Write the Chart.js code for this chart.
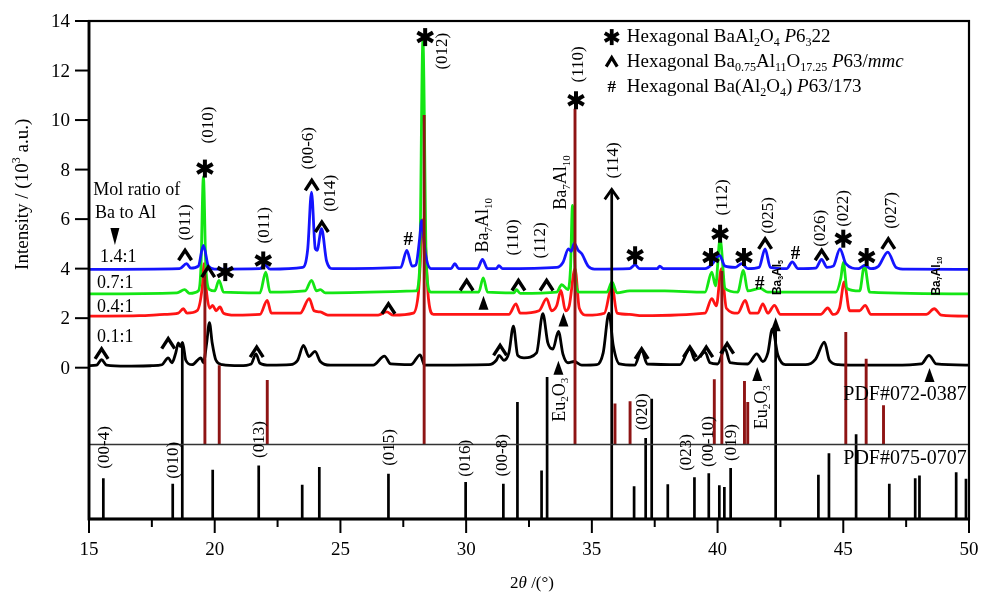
<!DOCTYPE html>
<html>
<head>
<meta charset="utf-8">
<script src="https://cdn.jsdelivr.net/npm/chart.js@4.4.1/dist/chart.umd.min.js"></script>
<style>
  body { margin: 0; background: #fff; }
  canvas { display: block; }
</style>
</head>
<body>
<canvas id="xrdChart" width="981" height="592"></canvas>
<script>
// --- Data ---
// XRD traces, [2theta, intensity in 10^3 a.u.] (already offset like the figure)
const trace01 = [[15,0.08],[15.3,0.1],[15.5,0.32],[15.7,0.1],[16.5,0.06],[17.5,0.08],[17.9,0.12],[18.15,0.4],[18.3,0.2],[18.45,0.6],[18.55,1.0],[18.63,0.85],[18.72,1.02],[18.85,0.3],[19.1,0.12],[19.45,0.4],[19.55,0.2],[19.68,1.0],[19.79,1.82],[19.9,1.0],[20.05,0.3],[20.3,0.12],[21.0,0.08],[21.45,0.15],[21.64,0.56],[21.8,0.18],[22.2,0.1],[23.0,0.12],[23.3,0.3],[23.53,0.9],[23.75,0.45],[23.99,0.66],[24.2,0.25],[24.6,0.1],[26.3,0.1],[26.75,0.47],[27.0,0.15],[27.8,0.12],[28.17,0.52],[28.35,0.1],[30.9,0.12],[31.2,0.3],[31.31,0.5],[31.5,0.3],[31.7,0.6],[31.88,1.68],[32.05,0.5],[32.3,0.4],[32.8,0.6],[33.05,2.18],[33.25,1.0],[33.45,0.75],[33.67,1.47],[33.85,0.55],[34.05,0.2],[34.3,0.25],[34.6,0.1],[35.2,0.12],[35.45,0.6],[35.68,2.2],[35.85,0.9],[36.1,0.15],[36.7,0.1],[36.98,0.7],[37.2,0.15],[38.5,0.12],[38.9,0.77],[39.1,0.3],[39.5,0.63],[39.7,0.2],[40.0,0.15],[40.3,0.77],[40.5,0.2],[41.2,0.15],[41.56,0.56],[41.8,0.25],[42.0,0.6],[42.18,1.57],[42.4,0.5],[42.7,0.12],[43.5,0.12],[43.9,0.35],[44.25,1.03],[44.45,0.3],[44.8,0.12],[45.5,0.1],[47.0,0.1],[48.1,0.15],[48.41,0.5],[48.7,0.15],[50,0.1]];
const trace04 = [[15,2.08],[17,2.1],[18.0,2.15],[18.55,2.2],[18.75,2.38],[18.9,2.2],[19.3,2.3],[19.5,3.2],[19.58,4.2],[19.68,3.0],[19.8,2.4],[19.92,2.52],[20.05,2.3],[20.21,2.45],[20.35,2.2],[20.8,2.12],[21.8,2.15],[22.09,2.72],[22.25,2.2],[23.4,2.2],[23.76,2.79],[23.95,2.3],[24.2,2.25],[24.5,2.12],[26.5,2.12],[26.84,2.25],[27.1,2.12],[27.9,2.2],[28.1,3.0],[28.3,6.0],[28.5,2.8],[28.7,2.15],[31.7,2.15],[31.98,2.58],[32.15,2.2],[32.9,2.3],[33.2,2.79],[33.4,2.3],[33.6,2.5],[33.77,3.12],[33.95,2.3],[34.1,2.5],[34.33,4.0],[34.5,2.4],[34.8,2.12],[35.5,2.2],[35.8,3.3],[36.0,2.2],[36.5,2.15],[37,2.1],[39.5,2.2],[39.77,2.79],[39.95,2.5],[40.15,4.0],[40.35,2.4],[40.8,2.2],[41.1,2.72],[41.3,2.2],[41.6,2.2],[41.8,2.58],[42.0,2.2],[42.26,2.52],[42.5,2.15],[44.1,2.15],[44.38,2.41],[44.6,2.15],[44.85,2.4],[45.04,3.46],[45.25,2.3],[45.65,2.3],[45.87,2.52],[46.1,2.15],[48.3,2.15],[48.62,2.38],[48.9,2.12],[50,2.08]];
const trace07 = [[15,2.98],[18.5,3.02],[18.8,3.15],[19.0,3.0],[19.35,3.1],[19.45,4.0],[19.55,7.7],[19.65,4.0],[19.8,3.15],[20.0,3.1],[20.17,3.53],[20.35,3.05],[21.8,3.02],[22.03,3.86],[22.2,3.05],[23.6,3.1],[23.85,3.53],[24.05,3.1],[24.2,3.15],[24.4,3.02],[28.0,3.1],[28.15,4.0],[28.28,13.2],[28.42,4.0],[28.6,3.05],[30.5,3.05],[30.68,3.63],[30.85,3.05],[31.9,3.02],[32.0,3.15],[32.15,3.0],[33.6,3.05],[33.8,3.35],[34.05,3.15],[34.15,4.0],[34.23,6.55],[34.35,3.6],[34.5,3.05],[35.6,3.05],[35.8,3.46],[36.0,3.02],[36.5,3.1],[37.9,3.1],[39.5,3.05],[39.77,3.86],[39.92,3.3],[40.1,5.21],[40.3,3.2],[40.8,3.05],[41.03,3.93],[41.2,3.1],[41.7,3.2],[42.0,3.05],[44.7,3.05],[44.9,3.6],[45.0,4.25],[45.15,3.2],[45.65,3.1],[45.84,4.13],[46.05,3.05],[50,2.98]];
const trace14 = [[15,3.97],[18.6,4.0],[18.88,4.2],[19.05,4.02],[19.35,4.1],[19.55,4.94],[19.75,4.1],[20.0,3.98],[21.8,4.0],[22.0,4.15],[22.2,3.98],[23.5,4.05],[23.7,4.8],[23.85,7.09],[24.0,4.8],[24.07,4.74],[24.25,5.61],[24.45,4.3],[24.7,4.0],[27.4,4.05],[27.64,4.74],[27.85,4.1],[28.0,4.15],[28.15,5.2],[28.23,5.95],[28.38,4.6],[28.6,4.0],[29.4,4.0],[29.55,4.2],[29.7,4.0],[30.45,4.0],[30.65,4.37],[30.85,4.0],[31.2,4.0],[31.3,4.12],[31.45,4.0],[33.6,4.05],[33.85,4.25],[34.07,4.8],[34.18,4.7],[34.3,5.02],[34.45,4.75],[34.6,4.6],[34.85,4.1],[35.1,3.98],[36.5,4.0],[36.72,4.15],[36.9,4.0],[37.6,4.0],[37.7,4.1],[37.85,4.0],[39.5,4.0],[39.8,4.2],[40.07,4.54],[40.3,4.1],[40.7,4.05],[40.96,4.2],[41.2,4.0],[41.65,4.05],[41.89,4.8],[42.1,4.05],[42.75,4.0],[42.97,4.27],[43.2,4.0],[43.9,4.02],[44.14,4.37],[44.35,4.05],[44.6,4.1],[44.87,4.8],[45.1,4.2],[45.6,4.0],[45.85,4.13],[46.1,4.0],[46.4,4.1],[46.77,4.67],[47.1,4.05],[47.5,3.98],[50,3.97]];

// Reference patterns (stick positions and top values)
const pdf072Base = -3.1;
const pdf072Pos = [19.61, 20.18, 22.09, 28.33, 34.33, 35.92, 36.52, 39.87, 40.17, 41.07, 41.2, 45.1, 45.91, 46.6];
const pdf072Top = [3.8, 0.1, -0.5, 10.2, 10.46, -1.45, -1.36, -0.47, 3.9, -0.54, -1.39, 1.44, 0.36, -1.52];
const pdf075Base = -6.11;
const pdf075Pos = [15.57, 18.33, 18.71, 19.92, 21.75, 23.48, 24.16, 26.91, 29.98, 31.48, 32.04, 33.0, 33.22, 35.79, 36.68, 37.14, 37.38, 38.02, 39.08, 39.65, 40.07, 40.27, 40.52, 42.31, 44.01, 44.43, 45.51, 46.83, 47.86, 48.03, 49.49, 49.88];
const pdf075Top = [-4.46, -4.69, 1.03, -4.12, -3.95, -4.73, -4.01, -4.28, -4.62, -4.69, -1.39, -4.15, -0.38, 7.2, -4.79, -2.84, -1.25, -4.71, -4.42, -4.26, -4.75, -4.82, -4.05, 1.6, -4.32, -3.45, -2.69, -4.69, -4.46, -4.35, -4.22, -4.48];

// Axis ticks
const xTicks = [15, 20, 25, 30, 35, 40, 45, 50];
const yTicks = [0, 2, 4, 6, 8, 10, 12, 14];

// Phase markers [2theta, y]
const starMarks = [[19.61, 8.04], [20.42, 3.86], [21.93, 4.33], [28.37, 13.35], [34.37, 10.8], [36.72, 4.54], [39.74, 4.47], [40.1, 5.41], [41.05, 4.47], [45.0, 5.21], [45.93, 4.47]];
const caretMarks = [[18.82, 4.54], [19.74, 3.86], [23.86, 7.36], [24.26, 5.68], [15.5, 0.56], [18.15, 0.97], [21.67, 0.63], [26.91, 2.38], [31.35, 0.7], [36.98, 0.56], [30.02, 3.32], [32.08, 3.32], [33.2, 3.32], [38.9, 0.63], [39.55, 0.63], [40.38, 0.77], [41.89, 5.0], [44.14, 4.54], [46.79, 5.0]];
const hashMarks = [[27.7, 5.14], [43.1, 4.6], [41.68, 3.39]];
const triMarks = [[30.69, 2.62], [33.87, 1.95], [33.67, 0.0], [41.58, -0.25], [42.31, 1.75], [48.43, -0.3]];

// Labels [2theta, y, text]  (_{} subscript, ^{} superscript, ~{} italic)
const hklLabels = [[18.82, 5.87, '(011)'], [19.74, 9.8, '(010)'], [22.0, 5.75, '(011)'], [23.72, 8.86, '(00-6)'], [24.62, 7.04, '(014)'], [29.05, 12.78, '(012)'], [31.88, 5.26, '(110)'], [32.94, 5.14, '(112)'], [34.48, 12.25, '(110)'], [35.87, 8.37, '(114)'], [40.19, 6.88, '(112)'], [42.02, 6.15, '(025)'], [44.08, 5.63, '(026)'], [45.0, 6.43, '(022)'], [46.93, 6.35, '(027)'],
  [15.62, -3.22, '(00-4)'], [18.35, -3.74, '(010)'], [21.8, -2.9, '(013)'], [26.97, -3.22, '(015)'], [29.96, -3.66, '(016)'], [31.45, -3.54, '(00-8)'], [37.0, -1.78, '(020)'], [38.76, -3.42, '(023)'], [39.64, -2.98, '(00-10)'], [40.55, -3.02, '(019)']];
const phaseLabels = [[30.69, 5.75, 'Ba_{7}Al_{10}'], [33.8, 7.48, 'Ba_{7}Al_{10}'], [33.73, -1.29, 'Eu_{2}O_{3}'], [41.76, -1.6, 'Eu_{2}O_{3}']];
const smallLabels = [[42.4, 3.64, 'Ba_{3}Al_{5}'], [48.7, 3.7, 'Ba_{7}Al_{10}']];
const sampleLabels = [[15.44, 4.45, '1.4:1'], [15.32, 3.39, '0.7:1'], [15.32, 2.45, '0.4:1'], [15.32, 1.24, '0.1:1']];
const noteLabels = [[15.17, 7.16, 'Mol ratio of'], [15.24, 6.23, 'Ba to Al'], [45.0, -1.08, 'PDF#072-0387'], [45.0, -3.66, 'PDF#075-0707']];
const legendY = [13.35, 12.34, 11.33];
const legendText = ['Hexagonal BaAl_{2}O_{4} ~{P}6_{3}22', 'Hexagonal Ba_{0.75}Al_{11}O_{17.25} ~{P}63/~{mmc}', 'Hexagonal Ba(Al_{2}O_{4}) ~{P}63/173'];

const SERIF = '"Liberation Serif", "DejaVu Serif", serif';
const SANS = '"Liberation Sans", Arial, sans-serif';

// --- Helpers ---
function toPoints(arr) {
    return arr.map(p => ({ x: p[0], y: p[1] }));
}

// each stick = base -> top, then a null point to break the line
function sticks(pos, top, base) {
    const out = [];
    pos.forEach((x, i) => {
        out.push({ x: x, y: base }, { x: x, y: top[i] }, { x: x, y: null });
    });
    return out;
}

function parseRich(str) {
    const parts = [];
    const re = /([_^~])\{([^}]*)\}/g;
    let last = 0, m;
    while ((m = re.exec(str))) {
        if (m.index > last) parts.push([str.slice(last, m.index), 'n']);
        parts.push([m[2], m[1] === '_' ? 'sub' : m[1] === '^' ? 'sup' : 'it']);
        last = re.lastIndex;
    }
    if (last < str.length) parts.push([str.slice(last), 'n']);
    return parts;
}

function richText(ctx, str, x, y, opt) {
    const size = opt.size;
    const fam = opt.family || SERIF;
    const fontFor = k => {
        const s = (k === 'sub' || k === 'sup') ? Math.round(size * 0.62) : size;
        return [k === 'it' ? 'italic' : '', opt.weight || '', s + 'px', fam].filter(Boolean).join(' ');
    };
    const parts = parseRich(str);
    let total = 0;
    parts.forEach(p => {
        ctx.font = fontFor(p[1]);
        p.push(ctx.measureText(p[0]).width);
        total += p[2];
    });
    ctx.save();
    ctx.translate(x, y);
    if (opt.rotate) ctx.rotate(-Math.PI / 2);
    let cx = opt.align === 'left' ? 0 : opt.align === 'right' ? -total : -total / 2;
    ctx.textAlign = 'left';
    ctx.textBaseline = 'middle';
    ctx.fillStyle = opt.color || '#000';
    parts.forEach(p => {
        ctx.font = fontFor(p[1]);
        const dy = p[1] === 'sub' ? size * 0.3 : p[1] === 'sup' ? -size * 0.33 : 0;
        ctx.fillText(p[0], cx, dy);
        cx += p[2];
    });
    ctx.restore();
}

function drawStar(ctx, px, py, r, lw) {
    ctx.save();
    ctx.strokeStyle = '#000';
    ctx.lineWidth = lw;
    ctx.lineCap = 'butt';
    [90, 30, 150].forEach(a => {
        const dx = Math.cos(a * Math.PI / 180) * r, dy = Math.sin(a * Math.PI / 180) * r;
        ctx.beginPath();
        ctx.moveTo(px - dx, py - dy);
        ctx.lineTo(px + dx, py + dy);
        ctx.stroke();
    });
    ctx.restore();
}

function drawCaret(ctx, px, py, w, h, lw) {
    ctx.save();
    ctx.strokeStyle = '#000';
    ctx.lineWidth = lw;
    ctx.lineJoin = 'miter';
    ctx.beginPath();
    ctx.moveTo(px - w / 2, py + h / 2);
    ctx.lineTo(px, py - h / 2);
    ctx.lineTo(px + w / 2, py + h / 2);
    ctx.stroke();
    ctx.restore();
}

function drawTri(ctx, px, py, w, h, down) {
    const s = down ? -1 : 1;
    ctx.save();
    ctx.fillStyle = '#000';
    ctx.beginPath();
    ctx.moveTo(px, py - s * h / 2);
    ctx.lineTo(px + w / 2, py + s * h / 2);
    ctx.lineTo(px - w / 2, py + s * h / 2);
    ctx.closePath();
    ctx.fill();
    ctx.restore();
}

// --- Frame, ticks and titles ---
const framePlugin = {
    id: 'frame',
    afterDatasetsDraw(chart) {
        const { ctx, chartArea: a, scales: { x, y } } = chart;
        ctx.save();

        // separator between the two reference patterns
        ctx.lineWidth = 1.6;
        ctx.strokeStyle = '#333';
        ctx.beginPath();
        ctx.moveTo(a.left, y.getPixelForValue(pdf072Base));
        ctx.lineTo(a.right, y.getPixelForValue(pdf072Base));
        ctx.stroke();

        ctx.strokeStyle = '#000';
        ctx.lineWidth = 2.2;
        ctx.strokeRect(a.left, a.top, a.right - a.left, a.bottom - a.top);
        ctx.lineWidth = 2.8;
        ctx.beginPath();
        ctx.moveTo(a.left, a.top);
        ctx.lineTo(a.left, a.bottom);
        ctx.lineTo(a.right, a.bottom);
        ctx.stroke();

        // y ticks
        ctx.lineWidth = 2;
        ctx.font = '19px ' + SERIF;
        ctx.fillStyle = '#000';
        ctx.textAlign = 'right';
        ctx.textBaseline = 'middle';
        yTicks.forEach(v => {
            const py = y.getPixelForValue(v);
            ctx.beginPath();
            ctx.moveTo(a.left - 14, py);
            ctx.lineTo(a.left, py);
            ctx.stroke();
            ctx.fillText(String(v), a.left - 19, py + 1);
        });

        // x ticks, majors every 5, minors in between
        for (let v = 15; v <= 50; v += 2.5) {
            const px = x.getPixelForValue(v);
            ctx.beginPath();
            ctx.moveTo(px, a.bottom);
            ctx.lineTo(px, a.bottom + (v % 5 === 0 ? 14 : 8));
            ctx.stroke();
        }
        ctx.textAlign = 'center';
        xTicks.forEach(v => ctx.fillText(String(v), x.getPixelForValue(v), a.bottom + 31));
        ctx.restore();

        richText(ctx, '2~{θ} /(°)', (a.left + a.right) / 2 + 3, a.bottom + 65, { size: 17 });
        richText(ctx, 'Intensity / (10^{3} a.u.)', 23, y.getPixelForValue(7.0), { size: 19, rotate: true });
    }
};

// --- Markers and labels ---
const notesPlugin = {
    id: 'notes',
    afterDatasetsDraw(chart) {
        const { ctx, scales: { x, y } } = chart;
        const X = v => x.getPixelForValue(v), Y = v => y.getPixelForValue(v);

        starMarks.forEach(p => drawStar(ctx, X(p[0]), Y(p[1]), 9, 4));
        caretMarks.forEach(p => drawCaret(ctx, X(p[0]), Y(p[1]), 13, 10, 3.4));
        triMarks.forEach(p => drawTri(ctx, X(p[0]), Y(p[1]), 10, 14, false));
        drawTri(ctx, X(16.03), Y(5.3), 9, 17, true);
        // open arrow head on the (114) stick
        drawCaret(ctx, X(35.79), Y(7.2) + 5, 14, 10, 2.8);

        ctx.save();
        ctx.fillStyle = '#000';
        ctx.font = 'bold 19px ' + SERIF;
        ctx.textAlign = 'center';
        ctx.textBaseline = 'middle';
        hashMarks.forEach(p => ctx.fillText('#', X(p[0]), Y(p[1])));
        ctx.restore();

        hklLabels.forEach(p => richText(ctx, p[2], X(p[0]), Y(p[1]), { size: 17, rotate: true }));
        phaseLabels.forEach(p => richText(ctx, p[2], X(p[0]), Y(p[1]), { size: 18, rotate: true }));
        smallLabels.forEach(p => richText(ctx, p[2], X(p[0]), Y(p[1]), { size: 12, rotate: true, family: SANS, weight: 'bold' }));
        sampleLabels.forEach(p => richText(ctx, p[2], X(p[0]), Y(p[1]), { size: 18, align: 'left' }));
        noteLabels.forEach((p, i) => richText(ctx, p[2], X(p[0]), Y(p[1]), { size: i < 2 ? 18 : 20, align: 'left' }));

        // legend
        const lx = X(35.79);
        drawStar(ctx, lx, Y(legendY[0]), 8, 3.8);
        drawCaret(ctx, lx, Y(legendY[1]), 11, 9, 3.2);
        ctx.save();
        ctx.font = 'bold 17px ' + SERIF;
        ctx.textAlign = 'center';
        ctx.textBaseline = 'middle';
        ctx.fillText('#', lx, Y(legendY[2]));
        ctx.restore();
        legendText.forEach((t, i) => richText(ctx, t, X(36.39), Y(legendY[i]), { size: 19, align: 'left' }));
    }
};

// --- Chart ---
const traceStyle = { borderWidth: 2.8, cubicInterpolationMode: 'monotone' };
const ctx = document.getElementById('xrdChart').getContext('2d');
new Chart(ctx, {
    type: 'line',
    data: {
        datasets: [
            { label: 'PDF#075-0707', data: sticks(pdf075Pos, pdf075Top, pdf075Base), borderColor: '#000', borderWidth: 2.7 },
            { label: 'PDF#072-0387', data: sticks(pdf072Pos, pdf072Top, pdf072Base), borderColor: '#8e1414', borderWidth: 2.9 },
            { label: '1.4:1', data: toPoints(trace14), borderColor: '#1414ff', ...traceStyle },
            { label: '0.7:1', data: toPoints(trace07), borderColor: '#14e614', ...traceStyle },
            { label: '0.4:1', data: toPoints(trace04), borderColor: '#ff1414', ...traceStyle },
            { label: '0.1:1', data: toPoints(trace01), borderColor: '#000', ...traceStyle }
        ]
    },
    options: {
        responsive: false,
        animation: false,
        layout: { padding: { left: 89, right: 12, top: 21, bottom: 73 } },
        elements: { point: { radius: 0 }, line: { tension: 0, fill: false, borderJoinStyle: 'round' } },
        scales: {
            x: { type: 'linear', min: 15, max: 50, display: false },
            y: { type: 'linear', min: -6.11, max: 14, display: false }
        },
        plugins: { legend: { display: false }, tooltip: { enabled: false } }
    },
    plugins: [framePlugin, notesPlugin]
});
</script>
</body>
</html>
